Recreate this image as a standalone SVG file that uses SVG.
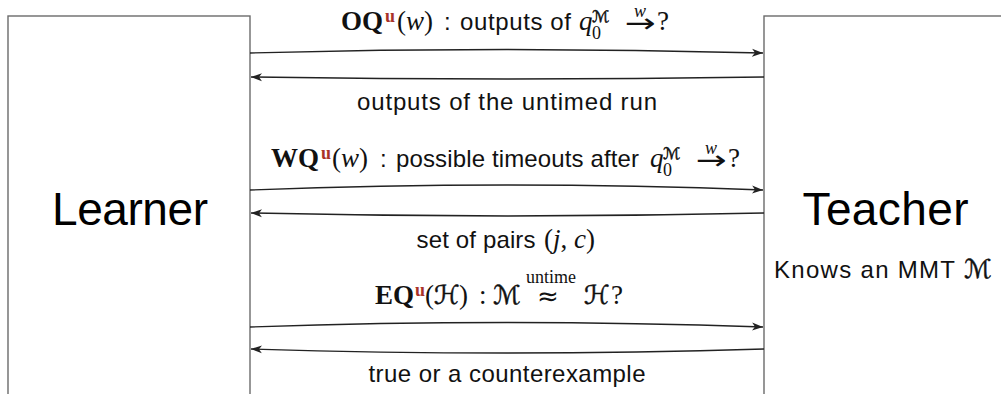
<svg xmlns="http://www.w3.org/2000/svg" width="1001" height="394" viewBox="0 0 1001 394">
<defs>
<style>
.box{fill:#fff;stroke:#6b6b6b;stroke-width:1.4}
.big{font-family:"Liberation Sans",Arial,sans-serif;font-size:46px;fill:#000}
.sans{font-family:"Liberation Sans",Arial,sans-serif;font-size:24px;fill:#111}
.m{font-family:"Liberation Serif","Times New Roman",serif;font-size:27px;fill:#111}
.i{font-style:italic}
.b{font-weight:bold}
.s{font-size:18px}
.red{fill:#a83228}
.cal{font-family:"DejaVu Sans","Noto Sans",sans-serif;fill:#111;stroke:#111;stroke-width:0.5}
.arr{font-family:"DejaVu Sans","Noto Sans",sans-serif;font-size:26px;fill:#111}
.conn{fill:none;stroke:#222;stroke-width:1.4;marker-end:url(#ah)}
</style>
<marker id="ah" markerUnits="userSpaceOnUse" markerWidth="12" markerHeight="10" refX="11" refY="5" orient="auto"><path d="M0,1 L11,5 L0,9 L3,5 z" fill="#222"/></marker>
</defs>
<rect x="0" y="0" width="1001" height="394" fill="#fff"/>
<g id="learner">
<rect class="box" x="8" y="16" width="242" height="400"/>
<text class="big" x="130" y="225" text-anchor="middle" textLength="156">Learner</text>
</g>
<g id="teacher">
<rect class="box" x="764" y="16" width="270" height="400"/>
<text class="big" x="885.5" y="225" text-anchor="middle" textLength="166">Teacher</text>
<text class="sans" x="774" y="278" textLength="181">Knows an MMT</text>
<text class="cal" x="964" y="278" font-size="26">ℳ</text>
</g>
<g id="connectors">
<g id="oq">
<path class="conn" d="M250,53 Q507,46 763,53"/>
<text class="m b" x="341" y="30">OQ</text>
<text class="m b s red" x="385" y="22">u</text>
<text class="m" x="397" y="30">(<tspan class="i">w</tspan>)</text>
<text class="sans" x="444" y="30">:</text>
<text class="sans" x="460" y="30" textLength="111">outputs of</text>
<text class="m i" x="579" y="30">q</text>
<text class="cal" x="592" y="22" font-size="16">ℳ</text>
<text class="m s" x="592" y="39">0</text>
<text class="arr" x="625" y="32" textLength="31" lengthAdjust="spacingAndGlyphs">→</text>
<text class="m i s" x="640" y="17" text-anchor="middle">w</text>
<text class="m" x="657" y="30">?</text>
</g>
<g id="oq-answer">
<path class="conn" d="M764,77 Q507,81 251,77"/>
<text class="sans" x="507" y="110" text-anchor="middle" textLength="300">outputs of the untimed run</text>
</g>
<g id="wq">
<path class="conn" d="M250,190 Q507,180 763,190"/>
<text class="m b" x="271" y="167">WQ</text>
<text class="m b s red" x="321" y="159">u</text>
<text class="m" x="332" y="167">(<tspan class="i">w</tspan>)</text>
<text class="sans" x="380" y="167">:</text>
<text class="sans" x="396" y="167" textLength="243">possible timeouts after</text>
<text class="m i" x="650" y="167">q</text>
<text class="cal" x="663" y="159" font-size="16">ℳ</text>
<text class="m s" x="663" y="176">0</text>
<text class="arr" x="696" y="169" textLength="31" lengthAdjust="spacingAndGlyphs">→</text>
<text class="m i s" x="711" y="154" text-anchor="middle">w</text>
<text class="m" x="728" y="167">?</text>
</g>
<g id="wq-answer">
<path class="conn" d="M764,213 Q507,219 251,213"/>
<text class="sans" x="416.5" y="248" textLength="119">set of pairs</text>
<text class="m" x="544" y="248">(<tspan class="i">j</tspan>, <tspan class="i">c</tspan>)</text>
</g>
<g id="eq">
<path class="conn" d="M250,327 Q507,318 763,327"/>
<text class="m b" x="375" y="304">EQ</text>
<text class="m b s red" x="415" y="296">u</text>
<text class="m" x="425" y="304">(</text>
<text class="cal" x="434" y="304" font-size="26">ℋ</text>
<text class="m" x="459" y="304">)</text>
<text class="m" x="479" y="304">:</text>
<text class="cal" x="493" y="304" font-size="26">ℳ</text>
<text class="arr" x="548" y="305" text-anchor="middle">≈</text>
<text class="m s" x="551" y="283" text-anchor="middle">untime</text>
<text class="cal" x="584" y="304" font-size="26">ℋ</text>
<text class="m" x="611" y="304">?</text>
</g>
<g id="eq-answer">
<path class="conn" d="M764,349 Q507,357 251,349"/>
<text class="sans" x="507" y="382" text-anchor="middle" textLength="277">true or a counterexample</text>
</g>
</g>
</svg>
